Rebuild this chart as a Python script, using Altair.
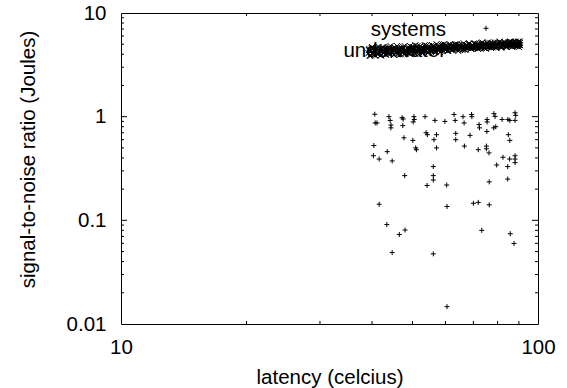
import altair as alt
import pandas as pd

# ---------------- data ----------------
systems_x = [40.6, 40.7, 41.1, 43.9, 44.2, 44.4, 44.4, 47.2, 47.5, 47.4,
             50.4, 50.5, 50.2, 53.6, 56.6, 59.8, 62.9, 63.3, 66.1, 66.5,
             69.3, 69.4, 72.2, 72.4, 75.5, 75.5, 78.4, 78.9, 78.3, 79.2,
             82.0, 84.7, 85.6, 88.1, 88.4, 88.1, 53.9, 54.3, 57.1, 47.7,
             50.1, 56.3, 63.5, 63.5, 68.7, 75.4, 84.9, 85.6, 40.4, 50.9,
             51.1, 57.1, 66.6, 71.9, 75.2, 75.2, 76.3, 43.5, 40.3, 41.6,
             44.7, 82.4, 85.5, 88.1, 88.1, 88.1, 79.6, 84.6, 56.1, 47.9,
             56.1, 56.1, 84.6, 76.4, 54.2, 60.4, 41.6, 60.5, 70.0, 71.9,
             76.4, 43.4, 46.5, 48.0, 44.7, 56.1, 73.3, 85.8, 87.6, 60.5]
systems_y = [1.055, 0.87, 0.87, 1.0, 0.92, 0.83, 0.78, 0.977, 0.95, 0.82,
             1.0, 0.94, 0.89, 1.0, 0.92, 0.90, 1.05, 0.92, 1.0, 0.87,
             1.05, 1.0, 0.84, 0.78, 0.94, 0.89, 1.07, 1.006, 0.78, 0.80,
             0.94, 0.94, 0.92, 1.09, 1.03, 0.92, 0.70, 0.67, 0.67, 0.625,
             0.59, 0.60, 0.69, 0.60, 0.66, 0.72, 0.67, 0.59, 0.527, 0.50,
             0.48, 0.50, 0.52, 0.48, 0.52, 0.49, 0.447, 0.46, 0.42, 0.39,
             0.374, 0.406, 0.39, 0.42, 0.39, 0.36, 0.342, 0.33, 0.33, 0.27,
             0.27, 0.245, 0.25, 0.235, 0.217, 0.219, 0.143, 0.136, 0.146, 0.149,
             0.141, 0.091, 0.073, 0.0806, 0.0489, 0.0475, 0.080, 0.0743, 0.0598, 0.0147]

underwater_x = [39.2, 39.4, 39.5, 39.8, 40.0, 40.1, 40.4, 40.6, 40.7, 41.0,
                41.2, 41.3, 41.6, 41.8, 42.0, 42.2, 42.5, 42.6, 42.9, 43.1,
                43.3, 43.6, 43.8, 44.0, 44.2, 44.5, 44.7, 45.0, 45.2, 45.5,
                45.7, 46.0, 46.2, 46.5, 46.8, 47.0, 47.3, 47.5, 47.8, 48.1,
                48.3, 48.6, 48.9, 49.2, 49.4, 49.7, 50.0, 50.3, 50.6, 50.9,
                51.2, 51.4, 51.8, 52.1, 52.3, 52.7, 53.0, 53.3, 53.6, 53.9,
                54.3, 54.6, 54.9, 55.2, 55.6, 55.9, 56.3, 56.6, 56.9, 57.3,
                57.6, 58.0, 58.3, 58.7, 59.0, 59.4, 59.8, 60.1, 60.5, 60.9,
                61.2, 61.7, 62.0, 62.4, 62.8, 63.2, 63.6, 64.0, 64.4, 64.8,
                65.2, 65.7, 66.1, 66.5, 66.9, 67.4, 67.8, 68.2, 68.7, 69.1,
                69.6, 70.0, 70.5, 70.9, 71.4, 71.8, 72.3, 72.8, 73.2, 73.7,
                74.2, 74.7, 75.1, 75.6, 76.1, 76.6, 77.1, 77.6, 78.1, 78.6,
                79.1, 79.6, 80.2, 80.7, 81.2, 81.7, 82.3, 82.8, 83.4, 83.9,
                84.5, 85.0, 85.6, 86.1, 86.7, 87.3, 87.9, 88.4, 89.0, 89.6,
                90.2, 90.6,
                39.3, 39.6, 39.9, 40.2, 40.5, 40.9, 41.1, 41.5, 41.7, 41.9,
                42.1, 42.4, 42.7, 43.0, 43.2, 43.5, 43.7, 43.9, 44.3, 44.6,
                44.9, 45.1, 45.4, 45.6, 45.9, 46.1, 46.4, 46.6, 46.9, 47.2,
                47.4, 47.7, 47.9, 48.2, 48.5, 48.8, 49.0, 49.3, 49.6, 49.9,
                50.1, 50.5, 50.8, 51.0, 51.3, 51.6, 51.9, 52.2, 52.5, 52.8,
                53.1, 53.5, 53.8, 54.1, 54.4, 54.8, 55.1, 55.4, 55.7, 56.1,
                56.4, 56.8, 57.1, 57.4, 57.8, 58.2, 58.5, 58.9, 59.2, 59.6,
                60.0, 60.3, 60.7, 61.0, 61.4, 61.9, 62.2, 62.6, 63.0, 63.4,
                63.8, 64.2, 64.6, 65.0, 65.5, 65.9, 66.3, 66.7, 67.2, 67.6,
                68.0, 68.4, 68.9, 69.4, 69.8, 70.2, 70.7, 71.1, 71.6, 72.1,
                72.5, 73.0, 73.5, 73.9, 74.4, 74.9, 75.4, 75.8, 76.3, 76.8,
                77.3, 77.8, 78.3, 78.8, 79.4, 79.9, 80.4, 80.9, 81.5, 82.0,
                82.5, 83.1, 83.6, 84.2, 84.7, 85.3, 85.8, 86.4, 87.0, 87.6,
                88.1, 88.7, 89.3, 89.9, 90.4, 90.0, 89.8, 88.9, 87.1, 86.2,
                39.5, 40.3, 41.4, 42.3, 43.4, 44.1, 45.3, 46.3, 47.1, 48.4,
                49.1, 49.8, 50.7, 51.5, 52.0, 52.6, 53.4, 54.0, 54.7, 55.3,
                55.8, 56.5, 57.0, 57.5, 58.1, 58.6, 59.1, 59.7, 60.2, 60.8,
                61.3, 61.8, 62.3, 62.9, 63.3, 63.9, 64.3, 64.9, 65.4, 65.8,
                66.4, 66.8, 67.3, 67.7, 68.3, 68.8, 69.3, 69.7, 70.3, 70.8,
                71.2, 71.7, 72.2, 72.7, 73.3, 73.8, 74.3, 74.8, 75.3, 75.9,
                76.4, 76.9, 77.4, 77.9, 78.4, 78.9, 79.5, 80.0, 80.5, 81.0,
                81.6, 82.1, 82.6, 83.2, 83.7, 84.3, 84.8, 85.4, 85.9, 86.5,
                87.0, 87.5, 88.0, 88.6, 89.1, 89.7, 90.3, 90.5, 89.4, 88.2,
                86.9, 85.1, 83.0, 81.4, 79.3, 77.5, 75.7, 73.4, 71.3, 69.2]
underwater_y = [4.1, 4.5, 3.9, 4.3, 4.7, 4.0, 4.4, 4.2, 3.9, 4.6,
                4.2, 4.0, 4.5, 4.3, 3.9, 4.6, 4.1, 4.4, 4.2, 4.0,
                4.5, 4.1, 4.3, 4.7, 4.0, 4.4, 4.2, 4.6, 3.95, 4.3,
                4.1, 4.5, 4.3, 4.0, 4.6, 4.4, 4.2, 4.7, 4.3, 4.1,
                4.4, 4.6, 4.2, 4.5, 4.0, 4.7, 4.3, 4.5, 4.1, 4.6,
                4.3, 4.8, 4.2, 4.5, 4.4, 4.1, 4.6, 4.3, 4.7, 4.4,
                4.5, 4.2, 4.7, 4.4, 4.6, 4.3, 4.8, 4.5, 4.2, 4.6,
                4.4, 4.7, 4.5, 4.3, 4.8, 4.6, 4.4, 4.9, 4.5, 4.3,
                4.7, 4.5, 4.8, 4.4, 4.6, 4.9, 4.5, 4.7, 4.3, 4.8,
                4.6, 4.9, 4.5, 4.7, 4.4, 4.8, 4.6, 5.0, 4.7, 4.5,
                4.8, 4.6, 5.0, 4.7, 4.9, 4.5, 4.8, 4.6, 5.1, 4.7,
                4.9, 4.6, 4.8, 5.1, 4.7, 4.9, 4.6, 5.0, 4.8, 4.7,
                5.0, 4.7, 4.9, 5.2, 4.8, 4.6, 5.0, 4.9, 5.1, 4.7,
                4.9, 5.2, 4.8, 5.0, 4.7, 5.1, 4.9, 5.3, 4.8, 5.0,
                5.1, 4.9,
                4.4, 3.85, 4.6, 4.2, 3.95, 4.5, 4.05, 4.7, 4.3, 3.9,
                4.4, 4.7, 4.1, 4.5, 3.95, 4.3, 4.6, 4.05, 4.8, 4.2,
                4.4, 3.95, 4.6, 4.2, 4.8, 4.05, 4.5, 4.3, 4.0, 4.6,
                4.5, 4.0, 4.8, 4.3, 4.6, 4.1, 4.4, 4.8, 4.2, 4.5,
                4.7, 4.2, 4.9, 4.4, 4.1, 4.6, 4.4, 4.8, 4.2, 4.6,
                4.4, 4.9, 4.3, 4.6, 4.1, 4.8, 4.5, 4.3, 4.9, 4.4,
                4.6, 4.3, 5.0, 4.5, 4.7, 4.2, 4.9, 4.4, 4.7, 5.0,
                4.5, 4.8, 4.3, 4.6, 5.0, 4.4, 4.7, 4.9, 4.5, 4.7,
                5.0, 4.5, 4.9, 4.6, 4.8, 4.4, 5.1, 4.7, 4.9, 4.6,
                4.8, 5.1, 4.6, 4.9, 4.7, 5.1, 4.6, 4.8, 5.0, 4.6,
                5.0, 4.7, 5.2, 4.8, 4.6, 5.0, 4.8, 5.2, 4.7, 4.9,
                4.7, 5.1, 4.8, 5.2, 4.6, 5.0, 4.9, 5.3, 4.8, 5.0,
                4.8, 5.2, 4.9, 4.7, 5.1, 4.9, 5.3, 4.8, 5.1, 4.9,
                5.2, 4.8, 5.1, 4.9, 5.3, 4.7, 5.2, 5.0, 4.8, 5.2,
                4.25, 4.6, 4.0, 4.45, 4.15, 4.55, 4.35, 4.1, 4.5, 4.25,
                4.6, 4.35, 4.05, 4.55, 4.7, 4.25, 4.45, 4.85, 4.35, 4.55,
                4.75, 4.25, 4.6, 4.85, 4.4, 4.65, 4.95, 4.5, 4.7, 4.35,
                4.85, 4.6, 4.4, 4.75, 5.0, 4.55, 4.8, 4.45, 4.65, 4.95,
                4.7, 4.45, 4.85, 4.6, 5.0, 4.75, 4.55, 4.9, 4.65, 5.05,
                4.8, 4.55, 4.95, 4.7, 5.1, 4.85, 4.6, 5.0, 4.75, 4.95,
                4.7, 5.15, 4.85, 4.65, 5.05, 4.9, 4.75, 5.15, 4.85, 5.0,
                4.7, 5.1, 4.9, 5.25, 4.8, 5.05, 4.95, 5.2, 4.85, 5.1,
                4.95, 5.25, 4.85, 5.1, 5.0, 5.3, 4.9, 5.15, 4.95, 5.05,
                5.2, 4.9, 5.0, 4.85, 4.95, 4.8, 4.9, 4.75, 4.7, 4.6]

series_names = ["systems", "underwater"]
x_tick_labels = [10, 100]
y_tick_labels = [0.01, 0.1, 1, 10]
x_minor_ticks = [20, 30, 40, 50, 60, 70, 80, 90]
y_minor_ticks = [0.02, 0.03, 0.04, 0.05, 0.06, 0.07, 0.08, 0.09,
                 0.2, 0.3, 0.4, 0.5, 0.6, 0.7, 0.8, 0.9,
                 2, 3, 4, 5, 6, 7, 8, 9]
y_major_inner = [0.1, 1]

# ---------------- styling ----------------
W, H = 417, 311
FONT = "Liberation Sans"
FS = 20.5
PLUS = "M-1,0L1,0M0,-1L0,1"
CROSS = "M-1,-1L1,1M-1,1L1,-1"

xs = alt.Scale(type="log", domain=[10, 100], nice=False)
ys = alt.Scale(type="log", domain=[0.01, 10], nice=False)

sys_df = pd.DataFrame({"x": systems_x, "y": systems_y})
uw_df = pd.DataFrame({"x": underwater_x, "y": underwater_y})

x_axis = alt.Axis(values=x_tick_labels, format="~g", title="latency (celcius)",
                  labelFont=FONT, labelFontSize=FS, labelColor="black",
                  titleFont=FONT, titleFontSize=FS, titleFontWeight="normal",
                  titleColor="black", tickSize=0, domain=False, grid=False,
                  labelPadding=13, labelFlush=False, titleX=W / 2, titleY=53,
                  titleBaseline="middle", titleAlign="center")
y_axis = alt.Axis(values=y_tick_labels, format="~g",
                  title="signal-to-noise ratio (Joules)",
                  labelFont=FONT, labelFontSize=FS, labelColor="black",
                  titleFont=FONT, titleFontSize=FS, titleFontWeight="normal",
                  titleColor="black", tickSize=0, domain=False, grid=False,
                  labelPadding=15, labelFlush=False, titleX=-93, titleY=146,
                  titleAngle=270, titleBaseline="middle", titleAlign="center")

systems_layer = alt.Chart(sys_df).mark_point(
    shape=PLUS, size=25, filled=False, strokeWidth=1, color="black", opacity=1
).encode(
    x=alt.X("x:Q", scale=xs, axis=x_axis),
    y=alt.Y("y:Q", scale=ys, axis=y_axis),
)

uw_layer = alt.Chart(uw_df).mark_point(
    shape=CROSS, size=36, filled=False, strokeWidth=1, color="black", opacity=1
).encode(
    x=alt.X("x:Q", scale=xs, axis=x_axis),
    y=alt.Y("y:Q", scale=ys, axis=y_axis),
)

def rule_x(vals, y0, y1):
    return alt.Chart(pd.DataFrame({"v": vals})).mark_rule(
        color="black", strokeWidth=1
    ).encode(x=alt.X("v:Q", scale=xs, axis=x_axis), y=alt.value(y0), y2=alt.value(y1))

def rule_y(vals, x0, x1):
    return alt.Chart(pd.DataFrame({"v": vals})).mark_rule(
        color="black", strokeWidth=1
    ).encode(y=alt.Y("v:Q", scale=ys, axis=y_axis), x=alt.value(x0), x2=alt.value(x1))

ticks = [
    rule_x(x_minor_ticks, H, H - 3), rule_x(x_minor_ticks, 0, 3),
    rule_y(y_minor_ticks, 0, 3), rule_y(y_minor_ticks, W, W - 3),
    rule_y(y_major_inner, 0, 6), rule_y(y_major_inner, W, W - 6),
]

key_df = pd.DataFrame({"name": series_names})
key_text_sys = alt.Chart(key_df).transform_filter(
    alt.datum.name == "systems"
).mark_text(font=FONT, fontSize=FS, align="right", baseline="alphabetic",
            color="black").encode(text="name:N", x=alt.value(325), y=alt.value(23))
key_text_uw = alt.Chart(key_df).transform_filter(
    alt.datum.name == "underwater"
).mark_text(font=FONT, fontSize=FS, align="right", baseline="alphabetic",
            color="black").encode(text="name:N", x=alt.value(325), y=alt.value(43.5))
key_pt_sys = alt.Chart(key_df).transform_filter(
    alt.datum.name == "systems"
).mark_point(shape=PLUS, size=25, filled=False, strokeWidth=1, color="black",
             opacity=1).encode(x=alt.value(365), y=alt.value(15.3))
key_pt_uw = alt.Chart(key_df).transform_filter(
    alt.datum.name == "underwater"
).mark_point(shape=CROSS, size=36, filled=False, strokeWidth=1, color="black",
             opacity=1).encode(x=alt.value(365), y=alt.value(35.8))

chart = alt.layer(
    systems_layer, *ticks, key_text_sys, key_text_uw, key_pt_sys, uw_layer, key_pt_uw
).properties(
    width=W, height=H,
    autosize=alt.AutoSizeParams(type="none"),
    padding={"left": 121, "top": 13, "right": 29, "bottom": 64},
    background="white",
).configure_view(stroke="black", strokeWidth=1)

chart.save("out.html", embed_options={"renderer": "svg", "actions": False})
